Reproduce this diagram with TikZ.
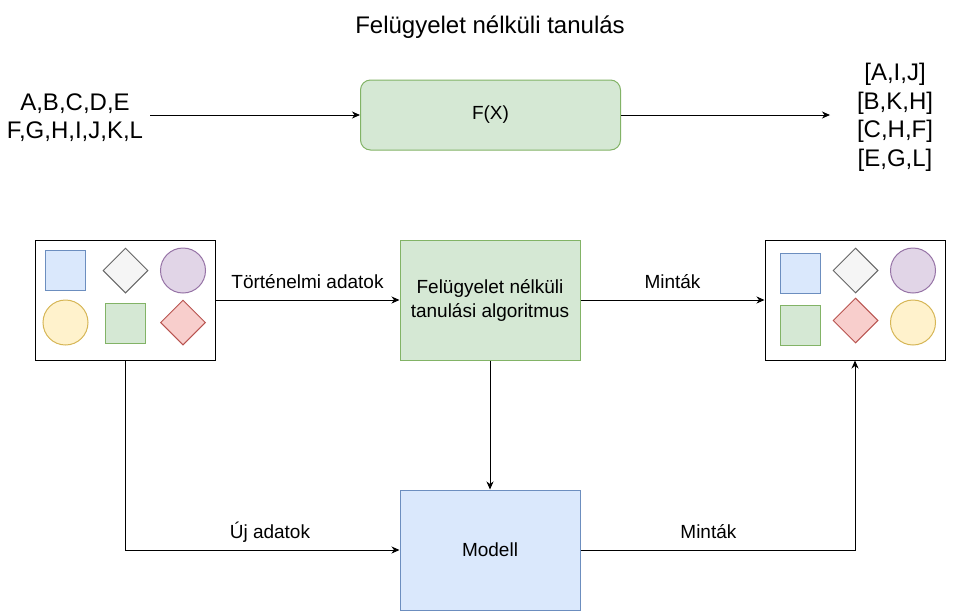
\documentclass[tikz,border=0pt]{standalone}
\usepackage{fontspec}
\setmainfont{Liberation Sans}
\usetikzlibrary{shapes.geometric,arrows.meta}
\definecolor{bfill}{HTML}{DAE8FC}
\definecolor{bline}{HTML}{6C8EBF}
\definecolor{gfill}{HTML}{D5E8D4}
\definecolor{gline}{HTML}{82B366}
\definecolor{sfill}{HTML}{F5F5F5}
\definecolor{sline}{HTML}{666666}
\definecolor{pfill}{HTML}{E1D5E7}
\definecolor{pline}{HTML}{9673A6}
\definecolor{yfill}{HTML}{FFF2CC}
\definecolor{yline}{HTML}{D6B656}
\definecolor{rfill}{HTML}{F8CECC}
\definecolor{rline}{HTML}{B85450}
\def\bigtxt{\fontsize{24}{28.5}\selectfont}
\def\midtxt{\fontsize{19}{24}\selectfont}

\begin{document}
\begin{tikzpicture}[x=1pt,y=-1pt,line width=1pt,
  box/.style={draw,minimum width=180pt,minimum height=120pt,inner sep=0pt},
  sq/.style={draw,minimum size=40pt,inner sep=0pt},
  dia/.style={draw,diamond,minimum size=45pt,inner sep=0pt},
  circ/.style={draw,circle,minimum size=45pt,inner sep=0pt},
  arr/.style={-{Stealth[length=8pt,width=7pt,inset=2.5pt]}},
  lab/.style={font=\midtxt,inner sep=0pt,above=12pt,anchor=base}]
\useasboundingbox (0,0) rectangle (961,611);

\node[font=\bigtxt] (title) at (490,27) {Felügyelet nélküli tanulás};
\node[font=\bigtxt,align=center] (inp) at (75,117.5) {A,B,C,D,E\\F,G,H,I,J,K,L};
\node[draw=gline,fill=gfill,rounded corners=10pt,minimum width=260pt,minimum height=70pt,font=\midtxt] (f) at (490.5,115) {F(X)};
\node[font=\bigtxt,align=center] (out) at (895,117.5) {{[A,I,J]}\\{[B,K,H]}\\{[C,H,F]}\\{[E,G,L]}};
\coordinate (fin) at (150,115);
\coordinate (fout) at (830,115);
\draw[arr] (fin) -- (f);
\draw[arr] (f) -- (fout);

\node[box] (old) at (125,300) {};
\node[box,draw=gline,fill=gfill,font=\midtxt,align=center] (alg) at (490,300) {Felügyelet nélküli\\tanulási algoritmus};
\node[box] (grp) at (855,300) {};
\node[box,draw=bline,fill=bfill,font=\midtxt] (mod) at (490,550) {Modell};

\node[sq,draw=bline,fill=bfill] (o1) at (65,270) {};
\node[dia,draw=sline,fill=sfill] (o2) at (125.5,270.5) {};
\node[circ,draw=pline,fill=pfill] (o3) at (183,270.5) {};
\node[circ,draw=yline,fill=yfill] (o4) at (65.5,322.5) {};
\node[sq,draw=gline,fill=gfill] (o5) at (125.5,323) {};
\node[dia,draw=rline,fill=rfill] (o6) at (183,322.5) {};

\node[sq,draw=bline,fill=bfill] (g1) at (800.5,273) {};
\node[dia,draw=sline,fill=sfill] (g2) at (855.5,270.5) {};
\node[circ,draw=pline,fill=pfill] (g3) at (913,270.5) {};
\node[sq,draw=gline,fill=gfill] (g4) at (800.5,325) {};
\node[dia,draw=rline,fill=rfill] (g5) at (855.5,320.5) {};
\node[circ,draw=yline,fill=yfill] (g6) at (913,322.5) {};

\draw[arr] (old) -- (alg) node[lab,midway] {Történelmi adatok};
\draw[arr] (alg) -- (grp) node[lab,midway] {Minták};
\draw[arr] (alg) -- (mod);
\draw[arr] (old) |- (mod) node[lab,pos=0.764] {Új adatok};
\draw[arr] (mod) -| (grp) node[lab,pos=0.233] {Minták};
\end{tikzpicture}
\end{document}
